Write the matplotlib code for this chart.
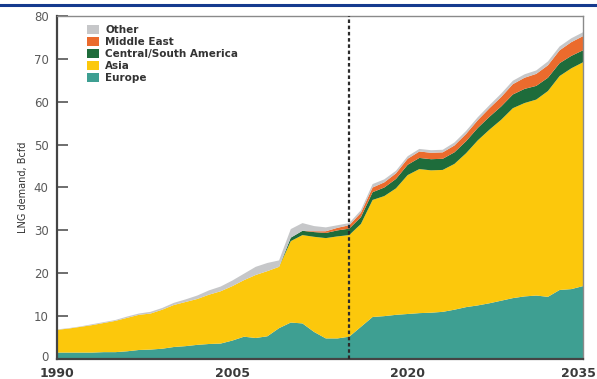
import numpy as np
import matplotlib
matplotlib.use("Agg")
import matplotlib.pyplot as plt
import matplotlib.transforms as mtransforms
from matplotlib.patches import Patch
from matplotlib.lines import Line2D

years = np.arange(1990, 2036)

# LNG demand by region, Bcfd
europe = [1.5, 1.5, 1.5, 1.5, 1.6, 1.6, 1.8, 2.1, 2.2, 2.4,
          2.8, 3.0, 3.3, 3.5, 3.6, 4.3, 5.2, 4.9, 5.3, 7.2,
          8.5, 8.3, 6.3, 4.8, 4.8, 5.2, 7.5, 9.8, 10.0, 10.3,
          10.5, 10.7, 10.8, 11.0, 11.5, 12.1, 12.5, 13.0, 13.6, 14.2,
          14.6, 14.8, 14.5, 16.1, 16.3, 17.0]
europe_asia_total = [6.8, 7.1, 7.5, 7.9, 8.4, 8.9, 9.6, 10.3, 10.6, 11.5,
                     12.6, 13.3, 14.0, 15.0, 15.8, 17.0, 18.4, 19.6, 20.5, 21.5,
                     27.5, 28.9, 28.5, 28.2, 28.6, 28.9, 31.5, 37.1, 38.0, 39.8,
                     42.9, 44.3, 44.0, 44.1, 45.5, 48.0, 51.0, 53.5, 55.8, 58.5,
                     59.7, 60.5, 62.5, 66.0, 67.8, 69.2]
asia = [round(t - e, 2) for t, e in zip(europe_asia_total, europe)]
central_south_america = [0] * 20 + [0.8, 1.0, 1.1, 1.2, 1.4, 1.5, 1.6, 1.8, 2.0, 2.2,
                                    2.4, 2.6, 2.6, 2.6, 2.7, 2.8, 2.9, 3.0, 3.1, 3.2,
                                    3.3, 3.2, 3.1, 3.0, 2.9, 2.8]
middle_east = [0] * 22 + [0.2, 0.4, 0.6, 0.8, 1.0, 1.1, 1.2, 1.3,
                          1.4, 1.5, 1.5, 1.5, 1.6, 1.7, 1.8, 2.0, 2.2, 2.4,
                          2.6, 2.8, 2.9, 3.0, 3.2, 3.3]
other = [0.1, 0.1, 0.1, 0.2, 0.2, 0.2, 0.3, 0.3, 0.4, 0.4,
         0.5, 0.6, 0.8, 1.0, 1.1, 1.3, 1.5, 1.9, 1.9, 1.5,
         2.0, 1.8, 1.2, 0.9, 0.6, 0.5, 0.6, 0.8, 0.7, 0.6,
         0.6, 0.6, 0.6, 0.6, 0.7, 0.7, 0.7, 0.7, 0.8, 0.8,
         0.8, 0.8, 0.9, 0.9, 0.9, 0.9]

series_names = ["Europe", "Asia", "Central/South America", "Middle East", "Other"]
colors = ["#3e9f92", "#fcc80c", "#1e6c3b", "#eb6b2d", "#c6c7c9"]

projection_start = 2015
x_ticks = [1990, 2005, 2020, 2035]
y_ticks = [0, 10, 20, 30, 40, 50, 60, 70, 80]

fig = plt.figure(figsize=(5.97, 3.79), dpi=100)
ax = fig.add_axes([57 / 597, 1 - 359 / 379, (583 - 57) / 597, (359 - 16) / 379])

ax.stackplot(years, europe, asia, central_south_america, middle_east, other,
             colors=colors, linewidth=0)

ax.axvline(projection_start, color="#2b2b2b", linestyle=(0, (1.6, 1.2)), linewidth=1.6, zorder=5)

ax.set_xlim(1990, 2035)
ax.set_ylim(0, 80)

ax.set_xticks(x_ticks)
ax.set_xticklabels([str(v) for v in x_ticks], fontsize=9, fontweight="bold", color="#3a3a3a")
ax.tick_params(axis="x", length=0, pad=6)
# keep the last year label inside the figure
last = ax.get_xticklabels()[-1]
last.set_horizontalalignment("right")
last.set_transform(last.get_transform() + mtransforms.ScaledTranslation(13 / 100, 0, fig.dpi_scale_trans))

ax.set_yticks(y_ticks)
ax.set_yticklabels([str(v) for v in y_ticks], fontsize=8.5, color="#5a5a5a")
ax.tick_params(axis="y", direction="in", length=8, width=1.2, color="#555555", pad=6)
first = ax.get_yticklabels()[0]
first.set_transform(first.get_transform() + mtransforms.ScaledTranslation(0, 3 / 100, fig.dpi_scale_trans))

for side in ["left", "bottom"]:
    ax.spines[side].set_color("#444444")
    ax.spines[side].set_linewidth(1.6)
for side in ["top", "right"]:
    ax.spines[side].set_color("#8a8a8a")
    ax.spines[side].set_linewidth(1.0)

ax.set_ylabel("LNG demand, Bcfd", fontsize=7, color="#333333", labelpad=4)

handles = [Patch(facecolor=c, edgecolor="none") for c in colors[::-1]]
leg = ax.legend(handles, series_names[::-1], loc="upper left", bbox_to_anchor=(0.05, 0.985),
                frameon=False, fontsize=7.5, handlelength=1.1, handleheight=0.9,
                handletextpad=0.6, labelspacing=0.18, borderaxespad=0)
for t in leg.get_texts():
    t.set_fontweight("bold")
    t.set_color("#333333")

# header rule
fig.add_artist(Line2D([0, 1], [1 - 5 / 379, 1 - 5 / 379], color="#153a8e", linewidth=2.2))

fig.savefig("out.png", dpi=100)
